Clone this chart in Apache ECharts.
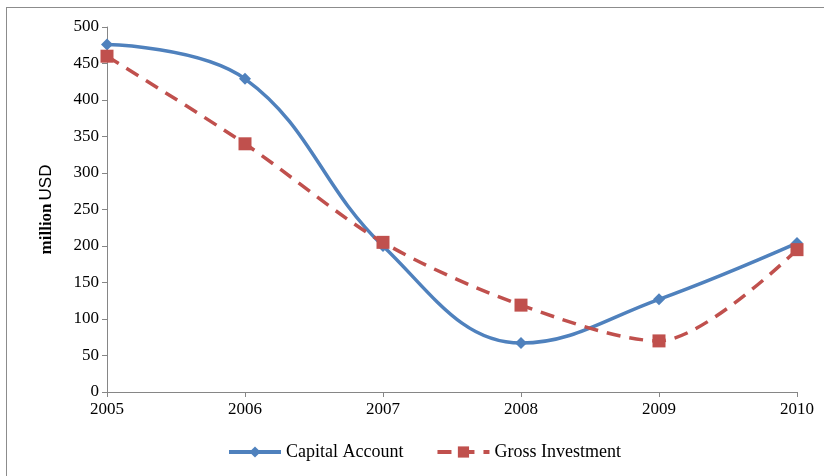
<!DOCTYPE html>
<html>
<head>
<meta charset="utf-8">
<script src="https://cdn.jsdelivr.net/npm/echarts@6/dist/echarts.min.js"></script>
<style>
  html, body { margin: 0; padding: 0; background: #fff; }
  #chart { width: 824px; height: 476px; }
</style>
</head>
<body>
<div id="chart"></div>
<script>
const years = ['2005', '2006', '2007', '2008', '2009', '2010']
const capitalAccount = [476, 429, 200, 67, 127, 204]
const grossInvestment = [460, 340, 205, 119, 70, 195]

const chart = echarts.init(document.getElementById('chart'))

const axisColor = '#868686'
const serif = '"Liberation Serif", "Times New Roman", serif'

chart.setOption({
  animation: false,
  textStyle: { fontFamily: serif },
  graphic: [
    {
      type: 'rect',
      shape: { x: 6, y: 7, width: 818, height: 1 },
      style: { fill: '#8c8c8c' }
    },
    {
      type: 'rect',
      shape: { x: 6, y: 7, width: 1, height: 469 },
      style: { fill: '#8c8c8c' }
    }
  ],
  grid: { left: 107, right: 27, top: 27, bottom: 84 },
  legend: {
    bottom: 10,
    left: 222,
    itemWidth: 52,
    itemHeight: 14,
    itemGap: 32,
    lineStyle: { width: 4 },
    textStyle: { fontFamily: serif, fontSize: 18, color: '#000' },
    data: ['Capital Account', 'Gross Investment']
  },
  xAxis: {
    type: 'category',
    data: years,
    boundaryGap: false,
    axisLine: { lineStyle: { color: axisColor, width: 1 } },
    axisTick: { show: true, length: 5, alignWithLabel: true, lineStyle: { color: axisColor } },
    axisLabel: { color: '#000', fontFamily: serif, fontSize: 17, margin: 9 }
  },
  yAxis: {
    type: 'value',
    min: 0,
    max: 500,
    interval: 50,
    name: '{b|million} {s|USD}',
    nameLocation: 'middle',
    nameRotate: 90,
    nameGap: 52,
    nameTextStyle: {
      rich: {
        b: { fontFamily: serif, fontWeight: 'bold', fontSize: 17, color: '#000' },
        s: { fontFamily: '"Liberation Sans", Arial, sans-serif', fontSize: 17, color: '#000' }
      }
    },
    axisLine: { show: true, lineStyle: { color: axisColor, width: 1 } },
    axisTick: { show: true, length: 5, lineStyle: { color: axisColor } },
    splitLine: { show: false },
    axisLabel: { color: '#000', fontFamily: serif, fontSize: 17, margin: 8 }
  },
  series: [
    {
      name: 'Capital Account',
      type: 'line',
      data: capitalAccount,
      smooth: 0.4,
      symbol: 'diamond',
      symbolSize: 12,
      itemStyle: { color: '#4F81BD' },
      lineStyle: { color: '#4F81BD', width: 3.5 }
    },
    {
      name: 'Gross Investment',
      type: 'line',
      data: grossInvestment,
      smooth: 0.3,
      symbol: 'rect',
      symbolSize: 13,
      itemStyle: { color: '#C0504D' },
      lineStyle: { color: '#C0504D', width: 3.5, type: [14, 9] }
    }
  ]
})
</script>
</body>
</html>
